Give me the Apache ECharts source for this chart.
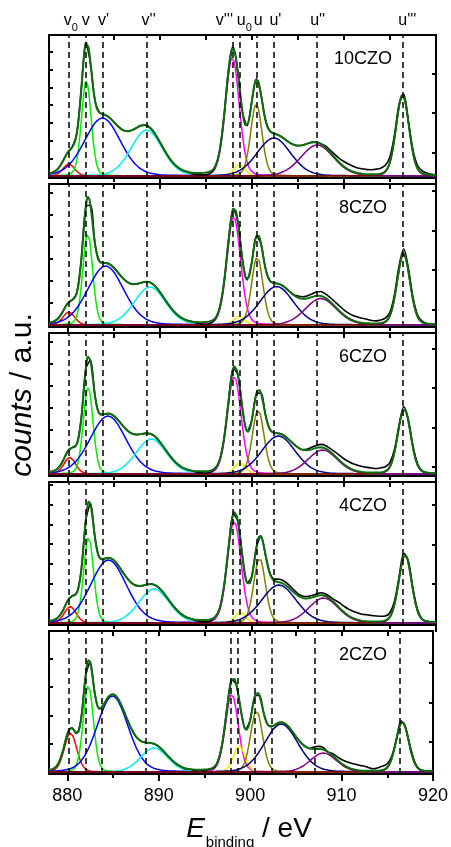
<!DOCTYPE html>
<html>
<head>
<meta charset="utf-8">
<script src="https://cdn.jsdelivr.net/npm/echarts@6/dist/echarts.min.js"></script>
<style>
  html, body { margin: 0; padding: 0; background: #fff; }
  #chart { width: 451px; height: 847px; }
</style>
</head>
<body>
<div id="chart"></div>
<script>
// Ce 3d XPS spectra of the xCZO series, fitted with ten Ce3+/Ce4+ components each.
const samples = ['10CZO', '8CZO', '6CZO', '4CZO', '2CZO'];
const peakNames = ['v0', 'v', "v'", "v''", "v'''", 'u0', 'u', "u'", "u''", "u'''"];
// reference binding energies of the components (dashed guide lines), eV
const refLines = [880.15, 882.0, 883.8, 888.6, 897.9, 898.65, 900.5, 902.35, 907.05, 916.35];

// fitted component centres (eV), one row per sample
const peakCenters = [
  [880.15, 882.05, 883.8, 888.6, 897.9, 898.65, 900.5, 902.4, 907.1, 916.37],
  [880.15, 882.2, 884.15, 888.95, 898.05, 898.6, 900.6, 902.7, 907.5, 916.48],
  [880.25, 882.25, 884.4, 889.1, 898.1, 898.7, 900.7, 902.9, 907.7, 916.55],
  [880.3, 882.3, 884.45, 889.4, 898.1, 898.75, 900.85, 902.95, 907.8, 916.65],
  [880.35, 882.3, 884.95, 889.5, 898.0, 898.8, 900.7, 903.4, 908.0, 916.65]
];
// fitted component amplitudes (counts, a.u.)
const peakHeights = [
  [12, 95, 58, 46, 119, 11.5, 72, 38, 31, 81],
  [13, 92, 59, 38, 108, 8.5, 68, 38.5, 26.5, 71],
  [16.5, 86.5, 58, 35, 98, 11, 64, 38, 24, 65],
  [16.5, 86.5, 63, 34, 102, 10.5, 65, 38, 25, 68],
  [39, 87, 76, 24, 78, 26, 61, 48, 19, 50]
];
// fitted component widths (FWHM, eV)
const peakFwhm = [
  [1.5, 1.25, 4.6, 4.0, 1.75, 1.4, 1.45, 4.3, 4.2, 1.65],
  [1.5, 1.25, 4.6, 4.0, 1.75, 1.4, 1.45, 4.3, 4.0, 1.65],
  [1.5, 1.25, 4.6, 3.9, 1.75, 1.4, 1.5, 4.3, 3.8, 1.65],
  [1.5, 1.25, 4.6, 3.9, 1.75, 1.4, 1.5, 4.4, 3.8, 1.65],
  [1.6, 1.3, 4.0, 3.5, 1.65, 1.5, 1.55, 4.3, 3.4, 1.65]
];
// measured counts minus fit envelope, [eV, difference]; zero where not listed
const dataOffsets = [
  [[893.5,-1],[894,-1.5],[894.5,-2],[895,-2.5],[895.5,-2],[896,-1],[908,1.5],[908.5,2],[909,3],[909.5,4],[910,5],[910.5,5.5],[911,5.5],[911.5,5],[912,5],[912.5,4.5],[913,4.5],[913.5,5],[914,5.5],[914.5,6],[915,5],[915.5,3],[916,1.5],[916.5,1.5],[917,1],[917.5,2.5],[918,3],[918.5,2.5],[919,1.5],[919.5,0.5]],
  [[894,-1],[894.5,-2],[895,-2.5],[895.5,-2],[896,-1],[905,1.5],[905.5,2],[906,2.5],[906.5,3],[907,4],[907.5,4.5],[908,4],[908.5,4],[909,4.5],[909.5,5],[910,5],[910.5,5],[911,5],[911.5,5],[912,4.5],[912.5,4],[913,3],[913.5,2.5],[914,3],[914.5,3.5],[915,3],[915.5,3],[916,3.5],[916.5,4.5],[917,3],[917.5,2],[918,1.5],[918.5,1]],
  [[894,-1],[894.5,-1.5],[895,-2],[895.5,-1.5],[896,-0.5],[906,1],[906.5,2],[907,2.5],[907.5,3],[908,3],[908.5,3],[909,4],[909.5,5],[910,5.5],[910.5,6],[911,6],[911.5,6],[912,5.5],[912.5,5],[913,4.5],[913.5,4],[914,4.5],[914.5,4.5],[915,4],[915.5,2.5],[916,1.5],[916.5,2],[917,1.5],[917.5,1.5],[918,1]],
  [[894,-1],[894.5,-1.5],[895,-2],[895.5,-1.5],[902,1],[902.5,2],[903,3],[903.5,3],[904,3],[904.5,2.5],[905,2],[905.5,2],[906,2],[906.5,2],[907,2],[907.5,2.5],[908,2],[908.5,2],[909,3],[909.5,5],[910,6],[910.5,6.5],[911,7],[911.5,7],[912,6.5],[912.5,6.5],[913,6],[913.5,5.5],[914,5],[914.5,4.5],[915,4],[915.5,3],[916,2],[916.5,3],[917,2],[917.5,1.5],[918,1]],
  [[893,-0.5],[894,-1],[895,-1.5],[896,-1],[907,2],[907.5,2.5],[908,2],[909,2],[909.5,3],[910,4],[910.5,5],[911,5.5],[911.5,5.5],[912,5],[912.5,4.5],[913,3],[913.5,2],[914,3],[914.5,4],[915,3.5],[915.5,2],[916.5,2],[917.5,1.5],[918,1]]
];
// axis ticks
const xMajorTicks = [880, 890, 900, 910, 920];
const xMinorTicks = [885, 895, 905, 915];
const xTopTicks = [885, 890, 895, 900, 905, 910, 915];

// ---- styling / layout ----
const FONT = "'Liberation Sans', Arial, Helvetica, sans-serif";
const peakColors = ['#ff0000', '#00ee00', '#0000ff', '#00eeee', '#ff00ff', '#eeee00', '#808000', '#000080', '#800080', '#800000'];
const ENVELOPE_COLOR = '#0e6e0e';
const LMIX = 0.15;               // Lorentzian share of the pseudo-Voigt line shape
const PANEL_TOP = 35, PANEL_PITCH = 149, PANEL_H = 143;
const Y_MIN = -2, Y_MAX = 141;
const leftTickStep = [17.7, 22, 22, 19.7, 28.3];
const rightTickStart = [23.7, 15.7, 7, 39, 30];
const RIGHT_STEP = 39.5;
const labelShift = [2, 0, 1, 2, -8, 5, 2, 2, 1, 5];

function lineShape(x, c, h, w) {
  const d = (x - c) / w;
  return h * ((1 - LMIX) * Math.exp(-4 * Math.LN2 * d * d) + LMIX / (1 + 4 * d * d));
}

const fineX = [];
for (let j = 0; j <= 420; j++) fineX.push(+(878 + j * 0.1).toFixed(1));
const coarseX = [];
for (let j = 0; j <= 84; j++) coarseX.push(+(878 + j * 0.5).toFixed(1));

const grids = [], xAxes = [], yAxes = [], series = [];
const axisLineStyle = { color: '#000', width: 2 };

samples.forEach((name, i) => {
  grids.push({ left: 49, right: 15, top: PANEL_TOP + i * PANEL_PITCH, height: PANEL_H });

  xAxes.push({
    gridIndex: i, type: 'value', min: 878, max: 920, position: 'bottom',
    axisLine: { onZero: false, lineStyle: axisLineStyle },
    axisTick: { inside: false, length: 7, customValues: xMajorTicks, lineStyle: axisLineStyle },
    axisLabel: { show: i === samples.length - 1, customValues: xMajorTicks, color: '#000', fontSize: 18, fontFamily: FONT, margin: 13 },
    splitLine: { show: false }
  });
  xAxes.push({
    gridIndex: i, type: 'value', min: 878, max: 920, position: 'bottom',
    axisLine: { show: false, onZero: false },
    axisTick: { inside: false, length: 4, customValues: xMinorTicks, lineStyle: axisLineStyle },
    axisLabel: { show: false }, splitLine: { show: false }
  });
  xAxes.push({
    gridIndex: i, type: 'value', min: 878, max: 920, position: 'top',
    axisLine: { onZero: false, lineStyle: axisLineStyle },
    axisTick: { inside: true, length: 5, customValues: xTopTicks, lineStyle: axisLineStyle },
    axisLabel: { show: false }, splitLine: { show: false }
  });

  const leftTicks = [];
  for (let v = leftTickStep[i]; v < Y_MAX; v += leftTickStep[i]) leftTicks.push(v);
  const rightTicks = [];
  for (let v = rightTickStart[i]; v < Y_MAX; v += RIGHT_STEP) rightTicks.push(v);

  yAxes.push({
    gridIndex: i, type: 'value', min: Y_MIN, max: Y_MAX, position: 'left',
    axisLine: { show: true, onZero: false, lineStyle: axisLineStyle },
    axisTick: { show: true, inside: true, length: 4, customValues: leftTicks, lineStyle: axisLineStyle },
    axisLabel: { show: false }, splitLine: { show: false }
  });
  yAxes.push({
    gridIndex: i, type: 'value', min: Y_MIN, max: Y_MAX, position: 'right',
    axisLine: { show: true, onZero: false, lineStyle: axisLineStyle },
    axisTick: { show: true, inside: true, length: 4, customValues: rightTicks, lineStyle: axisLineStyle },
    axisLabel: { show: false }, splitLine: { show: false }
  });

  const xi = 3 * i, yi = 2 * i;
  const cs = peakCenters[i], hs = peakHeights[i], ws = peakFwhm[i];
  const envelopeAt = x => cs.reduce((s, c, k) => s + lineShape(x, c, hs[k], ws[k]), 0);

  // dashed guide lines at the component energies
  series.push({
    type: 'line', xAxisIndex: xi, yAxisIndex: yi, data: [], z: 1, silent: true,
    markLine: {
      silent: true, animation: false, symbol: ['none', 'none'], label: { show: false },
      emphasis: { disabled: true },
      lineStyle: { color: '#000', width: 1.5, type: [6, 4] },
      data: refLines.map(e => ({ xAxis: e }))
    }
  });

  // fit components
  peakNames.forEach((pn, k) => {
    series.push({
      name: name + ' ' + pn, type: 'line', xAxisIndex: xi, yAxisIndex: yi,
      showSymbol: false, symbol: 'none', silent: true, z: 2,
      lineStyle: { color: peakColors[k], width: 1.5 },
      emphasis: { disabled: true },
      data: fineX.map(x => [x, lineShape(x, cs[k], hs[k], ws[k])])
    });
  });

  // measured spectrum
  const off = new Map(dataOffsets[i].map(([e, d]) => [e.toFixed(1), d]));
  series.push({
    name: name + ' data', type: 'line', xAxisIndex: xi, yAxisIndex: yi,
    showSymbol: false, symbol: 'none', silent: true, z: 3, smooth: 0.3,
    lineStyle: { color: '#000', width: 1.6 },
    emphasis: { disabled: true },
    data: coarseX.map(x => [x, envelopeAt(x) + (off.get(x.toFixed(1)) || 0)])
  });

  // fit envelope
  series.push({
    name: name + ' fit', type: 'line', xAxisIndex: xi, yAxisIndex: yi,
    showSymbol: false, symbol: 'none', silent: true, z: 4,
    lineStyle: { color: ENVELOPE_COLOR, width: 2 },
    emphasis: { disabled: true },
    data: fineX.map(x => [x, envelopeAt(x)])
  });
});

const chart = echarts.init(document.getElementById('chart'), null, { renderer: 'canvas' });
chart.setOption({
  animation: false,
  backgroundColor: '#fff',
  grid: grids, xAxis: xAxes, yAxis: yAxes, series: series
});

// text: component names above the top panel, sample names, axis titles
const graphics = [];
peakNames.forEach((pn, k) => {
  const px = chart.convertToPixel({ xAxisIndex: 0 }, refLines[k]) + labelShift[k];
  const m = pn.match(/^([uv])0$/);
  graphics.push({
    type: 'text', x: px, y: 13, silent: true,
    style: {
      text: m ? '{m|' + m[1] + '}{s|0}' : '{m|' + pn + '}',
      align: 'center', verticalAlign: 'top',
      rich: {
        m: { fontSize: 16, lineHeight: 16, fontFamily: FONT, fill: '#000', verticalAlign: 'top' },
        s: { fontSize: 11, lineHeight: 11, fontFamily: FONT, fill: '#000', verticalAlign: 'top', padding: [9, 0, 0, 0] }
      }
    }
  });
});
samples.forEach((name, i) => {
  graphics.push({
    type: 'text', x: 363, y: PANEL_TOP + i * PANEL_PITCH + 24, silent: true,
    style: { text: name, align: 'center', verticalAlign: 'middle', fontSize: 18, fontFamily: FONT, fill: '#000' }
  });
});
graphics.push({
  type: 'text', x: 23, y: 395, rotation: Math.PI / 2, silent: true,
  style: {
    text: '{i|counts}{n| / a.u.}', align: 'center', verticalAlign: 'middle',
    rich: {
      i: { fontSize: 30, fontStyle: 'italic', fontFamily: FONT, fill: '#000' },
      n: { fontSize: 30, fontFamily: FONT, fill: '#000' }
    }
  }
});
graphics.push({
  type: 'text', x: 249, y: 815, silent: true,
  style: {
    text: '{e|E}{s|binding}{n| / eV}', align: 'center', verticalAlign: 'top',
    rich: {
      e: { fontSize: 28, lineHeight: 30, fontStyle: 'italic', fontFamily: FONT, fill: '#000', verticalAlign: 'top' },
      s: { fontSize: 15, lineHeight: 15, fontFamily: FONT, fill: '#000', verticalAlign: 'top', padding: [20, 0, 0, 1] },
      n: { fontSize: 28, lineHeight: 30, fontFamily: FONT, fill: '#000', verticalAlign: 'top' }
    }
  }
});
chart.setOption({ graphic: graphics });
</script>
</body>
</html>
